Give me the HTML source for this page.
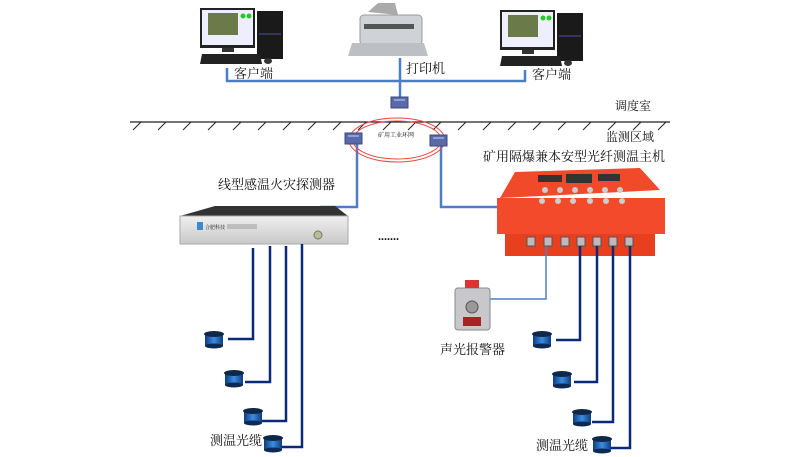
<!DOCTYPE html>
<html><head><meta charset="utf-8"><style>
body{margin:0;background:#fff}
svg{display:block}
text{font-family:"Liberation Serif","Noto Serif CJK SC",serif;fill:#111}
</style></head><body>
<svg width="800" height="457" viewBox="0 0 800 457" xmlns="http://www.w3.org/2000/svg">
<defs>
<linearGradient id="reel" x1="0" x2="1"><stop offset="0" stop-color="#0d3c80"/><stop offset=".5" stop-color="#3c8ee0"/><stop offset="1" stop-color="#0d3c80"/></linearGradient>
<linearGradient id="silver" x1="0" y1="0" x2="0" y2="1"><stop offset="0" stop-color="#f0f0f0"/><stop offset="1" stop-color="#c8c8c8"/></linearGradient>
<g id="reelg"><rect x="-9" y="-4" width="18" height="12" fill="url(#reel)"/><ellipse cx="0" cy="-4" rx="10" ry="3" fill="#102848"/><ellipse cx="0" cy="8" rx="9" ry="2.5" fill="#0d2a55"/></g>
<g id="sw"><rect x="0" y="0" width="17" height="11" fill="#5a6aa8" stroke="#3a4880"/><rect x="3" y="2" width="11" height="2" fill="#8fa0d8"/></g>
<g id="pc">
<rect x="0" y="5" width="55" height="40" fill="#222"/><rect x="2" y="7" width="51" height="35" fill="#eef"/><rect x="8" y="10" width="30" height="22" fill="#6a7a48"/><circle cx="43" cy="13" r="2.5" fill="#2c2"/><circle cx="49" cy="13" r="2.5" fill="#2c2"/>
<rect x="22" y="45" width="12" height="4" fill="#333"/>
<rect x="57" y="8" width="26" height="48" fill="#1a1a1a"/><rect x="59" y="30" width="22" height="2" fill="#336"/>
<polygon points="2,51 60,51 62,61 0,61" fill="#222"/><ellipse cx="68" cy="58" rx="4" ry="3" fill="#333"/>
</g>
</defs>
<!-- top network -->
<use href="#pc" x="200" y="3"/>
<use href="#pc" x="500" y="5"/>
<!-- printer -->
<polygon points="368,12 378,3 395,3 398,15" fill="#aaa"/>
<rect x="360" y="15" width="62" height="30" rx="4" fill="#cfd2d6" stroke="#999"/>
<rect x="364" y="24" width="50" height="5" fill="#555"/>
<polygon points="352,43 424,43 428,56 348,56" fill="#bcc0c4"/>
<g stroke="#4a7ec8" stroke-width="2.5" fill="none">
<polyline points="227,68 227,81 525,81 525,70"/>
<line x1="400" y1="58" x2="400" y2="98"/>
<polyline points="357,144 357,207 320,207"/>
<polyline points="441,146 441,207 500,207"/>
</g>
<text x="234" y="78" font-size="13">客户端</text>
<text x="406" y="73" font-size="13">打印机</text>
<text x="532" y="79" font-size="13">客户端</text>
<!-- ground -->
<line x1="130" y1="122" x2="670" y2="122" stroke="#222" stroke-width="1.2"/>
<g stroke="#222" stroke-width="1">
<path d="M133,130l8,-8M158,130l8,-8M183,130l8,-8M208,130l8,-8M233,130l8,-8M258,130l8,-8M283,130l8,-8M308,130l8,-8M333,130l8,-8M358,130l8,-8M383,130l8,-8M408,130l8,-8M433,130l8,-8M458,130l8,-8M483,130l8,-8M508,130l8,-8M533,130l8,-8M558,130l8,-8M583,130l8,-8M608,130l8,-8M633,130l8,-8M658,130l8,-8"/>
</g>
<text x="615" y="110" font-size="12">调度室</text>
<text x="606" y="141" font-size="12">监测区域</text>
<!-- ring -->
<ellipse cx="397" cy="140" rx="48" ry="22" fill="none" stroke="#e44" stroke-width="1"/>
<ellipse cx="397" cy="140" rx="44" ry="19" fill="none" stroke="#e44" stroke-width="1"/>
<text x="378" y="137" font-size="6">矿用工业环网</text>
<use href="#sw" x="391" y="97"/>
<use href="#sw" x="345" y="133"/>
<use href="#sw" x="430" y="135"/>
<!-- left device -->
<text x="218" y="189" font-size="13">线型感温火灾探测器</text>
<polygon points="215,206 335,206 348,216 180,216" fill="#333"/>
<rect x="180" y="216" width="168" height="28" fill="url(#silver)" stroke="#aaa"/>
<rect x="197" y="222" width="6" height="8" fill="#3a8ad0"/>
<text x="205" y="229" font-size="5" fill="#226">合肥科技</text>
<rect x="227" y="224" width="30" height="5" fill="#999" opacity=".5"/>
<circle cx="318" cy="235" r="4" fill="#bb9" stroke="#776"/>
<text x="378" y="240" font-size="12" font-weight="bold">.......</text>
<!-- red box -->
<text x="483" y="161" font-size="13">矿用隔爆兼本安型光纤测温主机</text>
<polygon points="515,172 640,168 660,190 500,198" fill="#f04a2a"/>
<rect x="497" y="198" width="168" height="36" fill="#f24a2a"/>
<rect x="505" y="234" width="150" height="22" fill="#e8401f"/>
<rect x="538" y="175" width="24" height="7" fill="#333"/><rect x="566" y="174" width="26" height="9" fill="#333"/><rect x="598" y="174" width="22" height="7" fill="#333"/>
<g fill="#ccc"><circle cx="545" cy="190" r="3"/><circle cx="560" cy="190" r="3"/><circle cx="575" cy="190" r="3"/><circle cx="590" cy="190" r="3"/><circle cx="605" cy="190" r="3"/><circle cx="620" cy="190" r="3"/><circle cx="542" cy="201" r="3"/><circle cx="558" cy="201" r="3"/><circle cx="573" cy="201" r="3"/><circle cx="590" cy="201" r="3"/><circle cx="606" cy="201" r="3"/><circle cx="622" cy="201" r="3"/></g>
<g fill="#bbb" stroke="#555"><rect x="527" y="237" width="8" height="9"/><rect x="544" y="237" width="8" height="9"/><rect x="561" y="237" width="8" height="9"/><rect x="577" y="237" width="8" height="9"/><rect x="593" y="237" width="8" height="9"/><rect x="609" y="237" width="8" height="9"/><rect x="625" y="237" width="8" height="9"/></g>
<!-- alarm -->
<polyline points="546,246 546,299 488,299" stroke="#4a7ec8" stroke-width="1.5" fill="none"/>
<rect x="455" y="288" width="35" height="42" rx="3" fill="#c8c8cc" stroke="#888"/>
<rect x="465" y="280" width="14" height="8" fill="#d33"/>
<circle cx="472" cy="307" r="6" fill="#999" stroke="#555"/>
<rect x="463" y="317" width="18" height="9" fill="#a22"/>
<text x="440" y="354" font-size="13">声光报警器</text>
<!-- cables -->
<g stroke="#0a2a78" stroke-width="2.5" fill="none">
<polyline points="253,248 253,339 228,339"/>
<polyline points="270,246 270,382 245,382"/>
<polyline points="286,246 286,421 262,421"/>
<polyline points="302,244 302,447 280,447"/>
<polyline points="580,246 580,340 556,340"/>
<polyline points="597,246 597,382 574,382"/>
<polyline points="613,246 613,422 592,422"/>
<polyline points="630,246 630,448 610,448"/>
</g>
<use href="#reelg" x="214" y="338"/>
<use href="#reelg" x="234" y="377"/>
<use href="#reelg" x="253" y="415"/>
<use href="#reelg" x="273" y="442"/>
<use href="#reelg" x="542" y="338"/>
<use href="#reelg" x="562" y="378"/>
<use href="#reelg" x="582" y="416"/>
<use href="#reelg" x="602" y="443"/>
<text x="210" y="445" font-size="13">测温光缆</text>
<text x="536" y="450" font-size="13">测温光缆</text>
</svg>
</body></html>
